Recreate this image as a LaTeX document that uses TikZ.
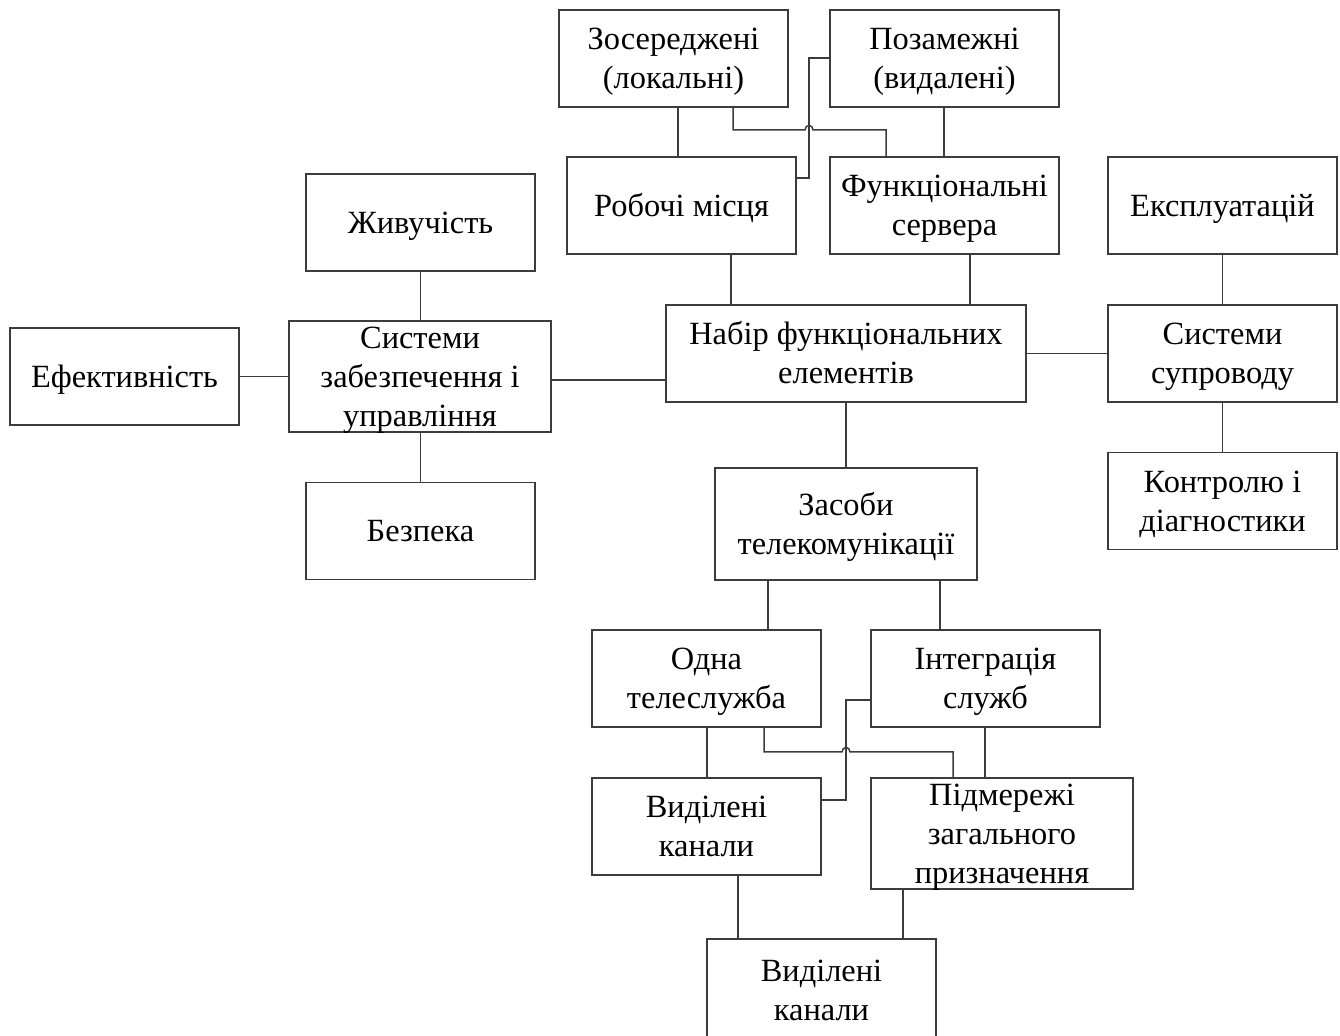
\documentclass[tikz,border=0pt]{standalone}
\usepackage{fontspec}
\setmainfont{Liberation Serif}
\definecolor{linec}{HTML}{3C3C3C}
% text with a fixed ascent on the first line and a fixed descent on the last
\newcommand\bxt[1]{\rule{0pt}{0.89em}#1\rule[-0.22em]{0pt}{0pt}}
\begin{document}
\begin{tikzpicture}[x=0.5pt,y=-0.5pt,
  box/.style={draw=linec, line width=0.75pt, align=center, inner sep=0pt,
    font=\fontsize{16.2}{19.5}\selectfont, text=black},
  std/.style={box, minimum width=114.5pt, minimum height=48.5pt},
  wide/.style={box, minimum width=131pt, minimum height=55.5pt, inner ysep=-0.8pt},
  link/.style={draw=linec, line width=0.75pt}]
\useasboundingbox (0,0) rectangle (1340,1036);

% top row: locations and functional parts
\node[std] (zos) at (673.5,58.5) {\bxt{Зосереджені\\(локальні)}};
\node[std] (poz) at (944.5,58.5) {\bxt{Позамежні\\(видалені)}};
\node[std] (rob) at (681.5,205.5) {\bxt{Робочі місця}};
\node[std] (fun) at (944.5,205.5) {\bxt{Функціональні\\сервера}};
\node[std] (eks) at (1222.5,205.5) {\bxt{Експлуатацій}};

% left branch
\node[std] (zhy) at (420.5,222.5) {\bxt{Живучість}};
\node[wide] (sys) at (420,376.5) {\bxt{Системи\\забезпечення і\\управління}};
\node[std] (efe) at (124.5,376.5) {\bxt{Ефективність}};
\node[std] (bez) at (420.5,531) {\bxt{Безпека}};

% centre and right branch
\node[box, minimum width=180pt, minimum height=48.5pt] (nab) at (846,353.5) {\bxt{Набір функціональних\\елементів}};
\node[std] (sup) at (1222.5,353.5) {\bxt{Системи\\супроводу}};
\node[std] (kon) at (1222.5,501) {\bxt{Контролю і\\діагностики}};

% telecommunication branch
\node[box, minimum width=131pt, minimum height=56pt] (zas) at (846,524) {\bxt{Засоби\\телекомунікації}};
\node[std] (odn) at (706.5,678.5) {\bxt{Одна\\телеслужба}};
\node[std] (int) at (985.5,678.5) {\bxt{Інтеграція\\служб}};
\node[std] (vyd) at (706.5,826.5) {\bxt{Виділені\\канали}};
\node[wide] (pid) at (1002,833.5) {\bxt{Підмережі\\загального\\призначення}};
\node[box, minimum width=114.5pt, minimum height=51pt] (vyb) at (821.5,990) {\bxt{Виділені\\канали}};

% connectors, top group
\draw[link] (678,0 |- zos.south) -- (678,0 |- rob.north);
\draw[link] (733,0 |- zos.south) -- (733,130) -- (805,130)
  .. controls (805,124) and (813,124) .. (813,130) -- (886,130) -- (886,0 |- fun.north);
\draw[link] (poz.west |- 0,58) -- (809,58) -- (809,178) -- (rob.east |- 0,178);
\draw[link] (944,0 |- poz.south) -- (944,0 |- fun.north);
\draw[link] (731,0 |- rob.south) -- (731,0 |- nab.north);
\draw[link] (970,0 |- fun.south) -- (970,0 |- nab.north);

% connectors, left group
\draw[link] (zhy.south) -- (zhy.south |- sys.north);
\draw[link] (efe.east) -- (efe.east -| sys.west);
\draw[link] (sys.east |- 0,380) -- (nab.west |- 0,380);
\draw[link] (bez.north |- sys.south) -- (bez.north);

% connectors, right group
\draw[link] (nab.east) -- (sup.west);
\draw[link] (eks.south) -- (sup.north);
\draw[link] (sup.south) -- (kon.north);

% connectors, telecommunication group
\draw[link] (nab.south) -- (zas.north);
\draw[link] (768,0 |- zas.south) -- (768,0 |- odn.north);
\draw[link] (940,0 |- zas.south) -- (940,0 |- int.north);
\draw[link] (707,0 |- odn.south) -- (707,0 |- vyd.north);
\draw[link] (764,0 |- odn.south) -- (764,752) -- (842,752)
  .. controls (842,746) and (850,746) .. (850,752) -- (953,752) -- (953,0 |- pid.north);
\draw[link] (int.west |- 0,700) -- (846,700) -- (846,800) -- (vyd.east |- 0,800);
\draw[link] (985,0 |- int.south) -- (985,0 |- pid.north);
\draw[link] (738,0 |- vyd.south) -- (738,0 |- vyb.north);
\draw[link] (903,0 |- pid.south) -- (903,0 |- vyb.north);
\end{tikzpicture}
\end{document}
